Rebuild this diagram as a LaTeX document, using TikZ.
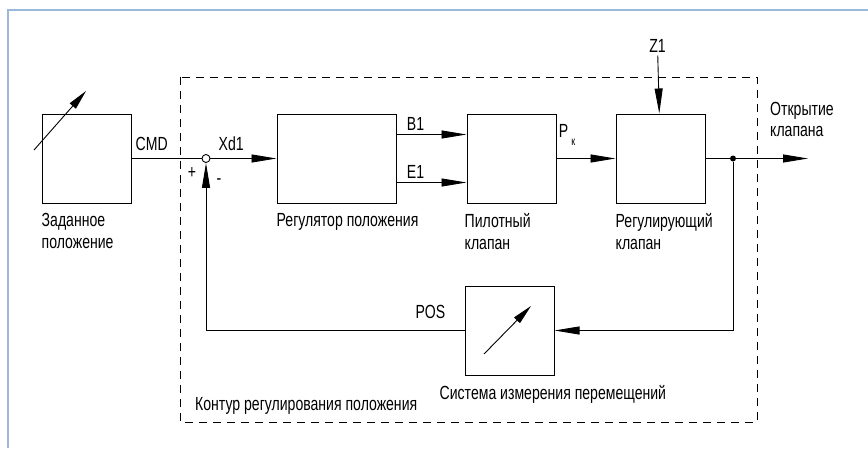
\documentclass[tikz,border=0pt]{standalone}
\usepackage{fontspec}
\setmainfont[FakeStretch=0.74]{Liberation Sans}
\usetikzlibrary{arrows.meta,positioning}
\definecolor{framecol}{RGB}{155,183,217}

\begin{document}
\begin{tikzpicture}[x=1pt,y=-1pt,node distance=10pt and 10pt,font=\fontsize{19}{21.5}\selectfont,
box/.style={draw,line width=1pt,minimum width=89pt,minimum height=89pt,inner sep=0pt},
lbl/.style={inner sep=0pt,align=left},
sumnode/.style={circle,draw,line width=0.9pt,fill=white,minimum size=8pt,inner sep=0pt},
tapnode/.style={circle,fill,minimum size=6pt,inner sep=0pt},
ln/.style={line width=0.9pt},
arr/.style={-{Triangle[length=25pt,width=8pt]},line width=0.9pt},
loopbox/.style={dashed,dash pattern=on 8pt off 6pt,line width=0.9pt}]
\useasboundingbox (0,0) rectangle (868,448);
\draw[framecol,line width=2pt] (7.5,448) -- (7.5,9.5) -- (868,9.5);
% blocks
\node[box] (setp) at (86.5,158.5) {};
\node[box,minimum width=119pt,right=145pt of setp] (reg) {};
\node[box,right=70pt of reg] (pilot) {};
\node[box,right=59pt of pilot] (valve) {};
\node[box,below=82pt of pilot,xshift=-2pt] (meas) {};
\node[sumnode] (sum) at (206,158.5) {};
\node[tapnode] (tap) at (733,158.5) {};
\coordinate (out) at (808,158.5);
\node[inner sep=2.5pt,above=58pt of valve,xshift=-3pt] (z1) {Z1};
% position loop
\coordinate (dnw) at (180,77);
\coordinate (dse) at (757,422);
\draw[loopbox] (dnw) rectangle (dse);
% adjustable symbols
\draw[arr,-{Triangle[length=20pt,width=8pt]}] (34,150) -- (86,91);
\draw[arr,-{Triangle[length=20pt,width=8pt]}] (484,354) -- (531,306);
% labels
\node[lbl,below right=10pt and 0pt of setp.south west] (setptxt) {Заданное\\положение};
\node[lbl,below right=10pt and 0pt of reg.south west] (regtxt) {Регулятор положения};
\node[lbl,below right=10pt and -2pt of pilot.south west] (pilottxt) {Пилотный\\клапан};
\node[lbl,below right=10pt and 0pt of valve.south west] (valvetxt) {Регулирующий\\клапан};
\node[lbl,below right=10pt and -25pt of meas.south west] (meastxt) {Система измерения перемещений};
\node[lbl,anchor=base west] (looptxt) at ([xshift=15pt,yshift=12pt]dnw |- dse) {Контур регулирования положения};
\node[lbl,anchor=north west] (opentxt) at (770,102) {Открытие\\клапана};
\node[lbl,anchor=base west] (cmd) at ([xshift=4pt,yshift=8pt]setp.east) {CMD};
\node[lbl,anchor=base west] (xd1) at ([xshift=8pt,yshift=8.5pt]sum.east) {Xd1};
\node[lbl] (plus) at ([xshift=-14pt,yshift=-15pt]sum.center) {+};
\node[lbl] (minus) at ([xshift=13pt,yshift=-23pt]sum.center) {-};
\node[lbl,anchor=base east] (pos) at ([xshift=-19pt,yshift=12pt]meas.west) {POS};
% connections
\draw[ln] (setp) -- (sum);
\draw[arr] (sum) -- (reg);
\draw[arr] ([yshift=24pt]reg.east) -- node[lbl,anchor=base west,at start,xshift=10pt,yshift=4pt] {B1} ([yshift=24pt]pilot.west);
\draw[arr] ([yshift=-24pt]reg.east) -- node[lbl,anchor=base west,at start,xshift=10pt,yshift=4pt] {E1} ([yshift=-24pt]pilot.west);
\draw[arr] (pilot) -- node[lbl,anchor=base west,at start,xshift=2pt,yshift=21pt] {P\hspace{3pt}\raisebox{-8pt}{\fontsize{12}{12}\selectfont к}} (valve);
\draw[arr] (z1) -- (valve);
\draw[ln] (valve) -- (tap);
\draw[arr] (tap) -- (out);
\draw[arr] (tap) |- (meas);
\draw[arr] (meas) -| (sum);
\end{tikzpicture}
\end{document}
